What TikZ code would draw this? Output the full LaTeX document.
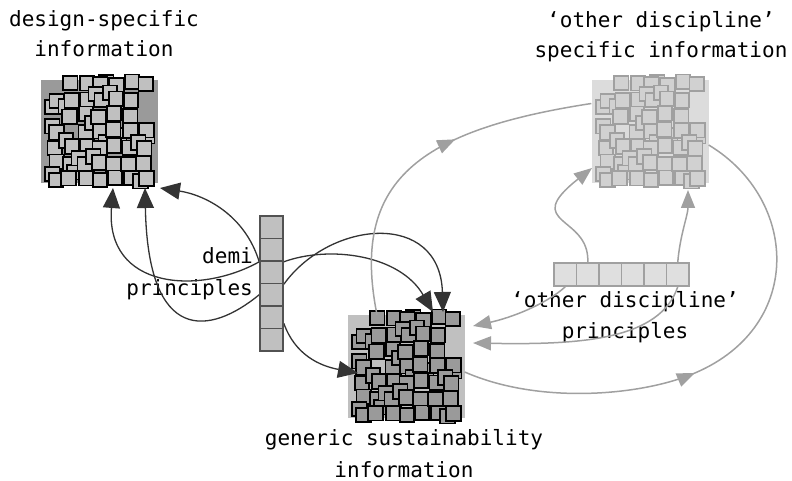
\documentclass[tikz,border=0pt]{standalone}
\usepackage{fontspec}
\setmonofont{DejaVu Sans Mono}
\usetikzlibrary{arrows.meta,decorations.markings}
\definecolor{dk}{HTML}{333333}
\definecolor{gy}{HTML}{A0A0A0}
\definecolor{bgA}{HTML}{9A9A9A}
\definecolor{bgB}{HTML}{C0C0C0}
\definecolor{bgC}{HTML}{DCDCDC}
\newcommand{\sqpattern}{%
  \pgfmathsetseed{21}%
  \foreach \i in {0,...,6}{%
    \foreach \j in {0,...,6}{%
      \pgfmathsetmacro{\dx}{2*rand}%
      \pgfmathsetmacro{\dy}{2*rand}%
      \pgfmathsetmacro{\p}{rnd}%
      \pgfmathsetmacro{\q}{rnd}%
      \pgfmathsetmacro{\ox}{(rnd<0.5 ? -6 : 6)}%
      \pgfmathsetmacro{\oy}{(rnd<0.5 ? -6 : 6)}%
      \pgfmathsetmacro{\cx}{7+15*\i+\dx}%
      \pgfmathsetmacro{\cy}{-4+16*\j+\dy}%
      \pgfmathsetmacro{\ex}{min(max(\cx+\ox,4),99)}%
      \pgfmathsetmacro{\ey}{min(max(\cy+\oy,-5),94)}%
      \ifdim\q pt<0.38pt \path[smallsq] (\ex,\ey) rectangle ++(14.5,14.5);\fi
      \ifdim\p pt<0.8pt \path[smallsq] (\cx,\cy) rectangle ++(14.5,14.5);\fi
    }%
  }%
}
\begin{document}
\begin{tikzpicture}[x=1pt,y=-1pt,
  lbl/.style={font=\ttfamily\fontsize{21}{30}\selectfont, align=center, anchor=base, inner sep=0pt},
  bigsq/.style={minimum width=117pt, minimum height=103pt, inner sep=0pt, draw=none},
  smallsq/.style={fill=sqfill, draw=sqdraw, line width=1.8pt},
  colcell/.style={minimum width=23pt, minimum height=22.5pt, inner sep=0pt, fill=bgB, draw=dk!85, line width=1.6pt},
  rowcell/.style={minimum width=22.5pt, minimum height=23pt, inner sep=0pt, fill=bgC!90, draw=gy, line width=1.6pt},
  dkarrow/.style={draw=dk, line width=1.3pt, -{Triangle[length=20pt,width=17pt]}},
  gyarrow/.style={draw=gy, line width=1.5pt, -{Triangle[length=18pt,width=14pt]}},
  gyline/.style={draw=gy, line width=1.5pt},
  midarrow/.style={postaction={decorate}, decoration={markings, mark=at position #1 with {\arrow{Triangle[length=18pt,width=14pt]}}}}
]
\useasboundingbox (0,0) rectangle (792,481);

% big squares
\node[bigsq, fill=bgA] (dsi) at (99.5,131.5) {};
\node[bigsq, fill=bgB] (gsi) at (406,366.5) {};
\node[bigsq, fill=bgC] (osi) at (650,131.5) {};

\begin{scope}[shift={(41,80)}]
  \colorlet{sqfill}{bgB}\colorlet{sqdraw}{black}
  \sqpattern
\end{scope}
\begin{scope}[shift={(348,315)}]
  \colorlet{sqfill}{bgA}\colorlet{sqdraw}{black}
  \sqpattern
\end{scope}
\begin{scope}[shift={(592,80)}]
  \colorlet{sqfill}{bgC!95!black}\colorlet{sqdraw}{gy}
  \sqpattern
\end{scope}

% labels (base = last line)
\node[lbl] (ldsi) at (104,57) {design-specific\\information};
\node[lbl] (losi) at (661,58) {‘other discipline’\\specific information};
\node[lbl, font=\ttfamily\fontsize{21}{32}\selectfont] (lgsi) at (404,477) {generic sustainability\\information};
\node[lbl, font=\ttfamily\fontsize{21}{31}\selectfont] (lodp) at (625,338) {‘other discipline’\\principles};
\node[lbl, font=\ttfamily\fontsize{21}{32}\selectfont, align=right, anchor=base east] (ldemi) at (253,295) {demi\\principles};

% column and row
\path (271.5,227.25) node[colcell] (demi1) {}
      ++(0,22.5) node[colcell] (demi2) {}
      ++(0,22.5) node[colcell] (demi3) {}
      ++(0,22.5) node[colcell] (demi4) {}
      ++(0,22.5) node[colcell] (demi5) {}
      ++(0,22.5) node[colcell] (demi6) {};
\path (565.25,274.5) node[rowcell] (odp1) {}
      ++(22.5,0) node[rowcell] (odp2) {}
      ++(22.5,0) node[rowcell] (odp3) {}
      ++(22.5,0) node[rowcell] (odp4) {}
      ++(22.5,0) node[rowcell] (odp5) {}
      ++(22.5,0) node[rowcell] (odp6) {};

% arrow end coordinates
\coordinate (t1) at (113,188);
\coordinate (t2) at (145,188);
\coordinate (t3) at (160,188);
\coordinate (b1) at (433,312);
\coordinate (b2) at (443,312);
\coordinate (b3) at (358,373);
\coordinate (o1) at (592,168);
\coordinate (o2) at (688,190);
\coordinate (g1) at (473,326);
\coordinate (g2) at (473,343);

% dark connectors
\draw[dkarrow] (demi2.south west) .. controls (200,295) and (105,290) .. (t1);
\draw[dkarrow] (demi4.west) .. controls (210,335) and (148,345) .. (t2);
\draw[dkarrow] (demi2.south west) .. controls (245,215) and (205,195) .. (t3);
\draw[dkarrow] (demi2.south east) .. controls (330,245) and (400,255) .. (b1);
\draw[dkarrow] (demi3.south east) .. controls (330,220) and (440,210) .. (b2);
\draw[dkarrow] ([yshift=-6pt]demi5.east) .. controls (295,355) and (320,366) .. (b3);

% gray connectors
\draw[gyline, midarrow=0.6] ([xshift=-29pt]gsi.north) .. controls (350,180) and (420,130) .. ([yshift=28pt]osi.west);
\draw[gyline, midarrow=0.45] ([yshift=-5.5pt]gsi.east) .. controls (540,405) and (640,395) .. (690,375) .. controls (805,330) and (800,200) .. ([yshift=-13.5pt]osi.east);
\draw[gyarrow] (odp2.north) .. controls (590,215) and (520,225) .. (o1);
\draw[gyarrow] (odp6.north) .. controls (680,235) and (688,215) .. (o2);
\draw[gyarrow] (odp1.south) .. controls (545,305) and (510,318) .. (g1);
\draw[gyarrow] (odp6.south) .. controls (660,340) and (580,345) .. (g2);

% redraw cells on top
\foreach \k in {1,...,6}{\node[colcell] at (demi\k) {};}
\foreach \k in {1,...,6}{\node[rowcell] at (odp\k) {};}
\end{tikzpicture}
\end{document}
